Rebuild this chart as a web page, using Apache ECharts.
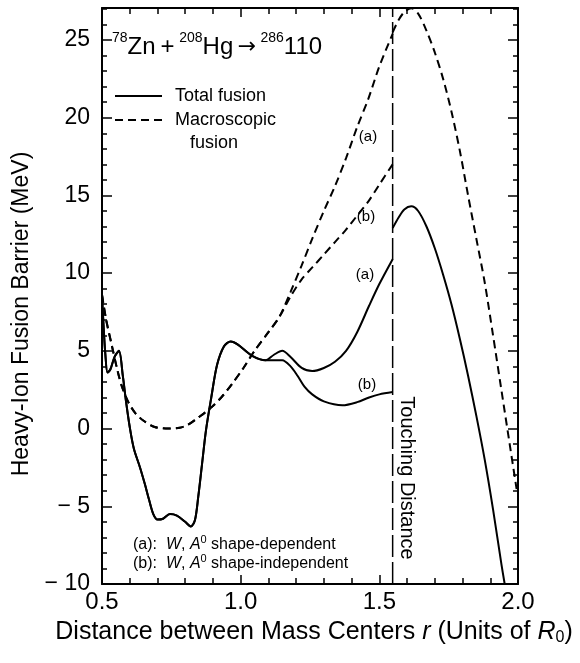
<!DOCTYPE html>
<html><head><meta charset="utf-8">
<script src="https://cdn.jsdelivr.net/npm/echarts/dist/echarts.min.js"></script>
<style>html,body{margin:0;padding:0;background:#fff}#c{width:580px;height:663px}</style>
</head><body><div id="c"></div>
<script>
// ---- data (r in units of R0, barrier in MeV) ----
const xTickLabels = ['0.5','1.0','1.5','2.0'];
const yTickLabels = ['− 10','− 5','0','5','10','15','20','25'];
const touchingR = 1.548;
const totalShared = [[0.500,8.6],[0.505,6.8],[0.512,4.8],[0.520,3.6],[0.530,3.8],[0.545,4.6],[0.561,5.0],[0.575,3.4],[0.587,1.7],[0.600,0.1],[0.615,-1.3],[0.637,-2.5],[0.655,-3.6],[0.670,-4.6],[0.685,-5.5],[0.700,-5.85],[0.720,-5.8],[0.745,-5.5],[0.770,-5.6],[0.800,-6.0],[0.820,-6.3],[0.835,-5.9],[0.847,-4.4],[0.860,-2.4],[0.875,-0.1],[0.894,2.0],[0.915,4.1],[0.940,5.3],[0.964,5.6],[0.990,5.4],[1.040,4.7],[1.090,4.4]];
const totalA = [[1.120,4.75],[1.150,5.0],[1.180,4.6],[1.220,3.9],[1.258,3.7],[1.300,3.9],[1.340,4.3],[1.380,5.0],[1.420,6.2],[1.463,7.9],[1.500,9.3],[1.548,10.9]];
const totalB = [[1.120,4.4],[1.150,4.4],[1.180,4.0],[1.205,3.4],[1.230,2.7],[1.258,2.2],[1.300,1.75],[1.367,1.5],[1.420,1.7],[1.463,2.0],[1.500,2.2],[1.548,2.35]];
const totalOuter = [[1.548,12.9],[1.570,13.6],[1.590,14.1],[1.615,14.3],[1.640,14.0],[1.670,13.0],[1.700,11.6],[1.730,9.9],[1.760,8.0],[1.790,5.8],[1.820,3.4],[1.850,0.8],[1.880,-2.0],[1.910,-5.2],[1.940,-8.7],[1.952,-10]];
const macroShared = [[0.500,8.6],[0.515,7.0],[0.536,5.3],[0.555,3.8],[0.572,2.7],[0.595,1.7],[0.620,1.0],[0.650,0.5],[0.690,0.1],[0.740,0.0],[0.780,0.05],[0.810,0.25],[0.850,0.75],[0.890,1.3],[0.930,2.0],[0.970,2.9],[1.010,3.9],[1.050,5.0],[1.100,6.2],[1.140,7.2]];
const macroA = [[1.180,8.8],[1.220,10.5],[1.260,12.3],[1.300,14.0],[1.340,15.6],[1.380,17.4],[1.420,19.4],[1.460,21.2],[1.500,23.3],[1.548,25.4]];
const macroB = [[1.180,8.5],[1.220,9.6],[1.260,10.4],[1.300,11.2],[1.340,12.0],[1.380,12.8],[1.420,13.7],[1.460,14.6],[1.500,15.7],[1.548,17.0]];
const macroOuter = [[1.548,25.5],[1.570,26.3],[1.590,26.8],[1.615,27.05],[1.640,26.7],[1.670,25.6],[1.700,24.2],[1.730,22.5],[1.760,20.4],[1.790,17.9],[1.820,15.0],[1.850,12.2],[1.880,9.4],[1.910,6.0],[1.940,2.5],[1.970,-1.0],[1.995,-3.9]];

const X_MIN = 0.5, X_MAX = 2.0, Y_MIN = -10, Y_MAX = 27.06;
const FONT = "'Liberation Sans', Arial, Helvetica, sans-serif";
const BLACK = '#000';

const chart = echarts.init(document.getElementById('c'), null, {renderer:'canvas'});

function join(a, b){ return a.concat(b || []).map(function(p){ return [p[0], p[1]]; }); }

function xAx(pos, interval, len, withLine, withLabel){
  return {type:'value', position:pos, min:X_MIN, max:X_MAX, interval:interval,
    axisLine:{show:withLine, onZero:false, lineStyle:{color:BLACK, width:2}},
    axisTick:{show:true, inside:true, length:len, lineStyle:{color:BLACK, width:1.5}},
    axisLabel:{show:withLabel, margin:6, fontSize:24, color:BLACK, fontFamily:FONT,
      formatter:function(v){const i=Math.round((v-X_MIN)/0.5); return Math.abs(v-(X_MIN+i*0.5))<1e-6 ? xTickLabels[i] : '';}},
    splitLine:{show:false}};
}
function yAx(pos, interval, len, withLine, withLabel){
  return {type:'value', position:pos, min:Y_MIN, max:Y_MAX, interval:interval,
    axisLine:{show:withLine, onZero:false, lineStyle:{color:BLACK, width:2}},
    axisTick:{show:true, inside:true, length:len, lineStyle:{color:BLACK, width:1.5}},
    axisLabel:{show:withLabel, margin:12, fontSize:23, color:BLACK, fontFamily:FONT,
      formatter:function(v){const i=Math.round((v-Y_MIN)/5); return (Math.abs(v-(Y_MIN+i*5))<1e-6 && i<yTickLabels.length) ? yTickLabels[i] : '';}},
    splitLine:{show:false}};
}

function ser(id, data, dash){
  return {id:id, name:id, type:'line', data:data, xAxisIndex:0, yAxisIndex:0, showSymbol:false, symbol:'none', smooth:0.3,
    lineStyle:{color:BLACK, width:2, type: dash ? [8,5] : 'solid'}, silent:true};
}
function txt(x, y, text, font, align){
  return {type:'text', x:x, y:y, style:{text:text, font:font, fill:BLACK, align:align||'left', verticalAlign:'middle'}};
}
// lay out a run of plain text pieces (super/subscripts as separate pieces)
const mctx = document.createElement('canvas').getContext('2d');
function runText(x0, y, segs, centered){
  const widths = segs.map(function(s){ mctx.font = s[1]; return mctx.measureText(s[0]).width; });
  let x = centered ? x0 - widths.reduce(function(a,b){return a+b;},0)/2 : x0;
  return segs.map(function(s, i){ const el = txt(x, y + (s[2]||0), s[0], s[1]); x += widths[i]; return el; });
}
const F = function(sz, it){ return (it ? 'italic ' : '') + sz + 'px ' + FONT; };

const graphics = [].concat(
  [{type:'text', x:22, y:314, rotation:Math.PI/2, style:{text:'Heavy-Ion Fusion Barrier (MeV)', font:F(23), fill:BLACK, align:'center', verticalAlign:'middle'}}],
  runText(314, 632, [['Distance between Mass Centers ',F(25)],['r',F(25,true)],[' (Units of ',F(25)],['R',F(25,true)],['0',F(16),6],[')',F(25)]], true),
  runText(112, 47, [['78',F(14),-9],['Zn\u2009+\u2009',F(24)],['208',F(14),-9],['Hg',F(24)],['\u2009→\u2009',"22px 'DejaVu Sans', sans-serif"],['286',F(14),-9],['110',F(24)]], false),
  [{type:'line', shape:{x1:115, y1:96, x2:162, y2:96}, style:{stroke:BLACK, lineWidth:2}},
   {type:'line', shape:{x1:115, y1:120, x2:162, y2:120}, style:{stroke:BLACK, lineWidth:2, lineDash:[8,5]}},
   txt(175, 96, 'Total fusion', F(18)),
   txt(175, 120, 'Macroscopic', F(18)),
   txt(190, 143, 'fusion', F(18)),
   txt(368, 137, '(a)', F(15), 'center'),
   txt(366, 217, '(b)', F(15), 'center'),
   txt(365, 275, '(a)', F(15), 'center'),
   txt(367, 385, '(b)', F(15), 'center'),
   {type:'text', x:407, y:478, rotation:-Math.PI/2, style:{text:'Touching Distance', font:F(20), fill:BLACK, align:'center', verticalAlign:'middle'}}],
  runText(133, 545, [['(a):  ',F(16)],['W',F(16,true)],[', ',F(16)],['A',F(16,true)],['0',F(11),-5],[' shape-dependent',F(16)]], false),
  runText(133, 564, [['(b):  ',F(16)],['W',F(16,true)],[', ',F(16)],['A',F(16,true)],['0',F(11),-5],[' shape-independent',F(16)]], false)
);

const option = {
  animation:false,
  backgroundColor:'#fff',
  grid:{left:102, right:62, top:8, bottom:79, show:false},
  xAxis:[xAx('bottom',0.5,9,true,true), xAx('bottom',0.1,6,false,false), xAx('top',0.5,9,true,false), xAx('top',0.1,6,false,false)],
  yAxis:[yAx('left',5,10,true,true), yAx('left',1,5,false,false), yAx('right',5,10,true,false), yAx('right',1,5,false,false)],
  series:[
    ser('totalA', join(totalShared, totalA), false),
    ser('totalB', join(totalShared, totalB), false),
    ser('totalOuter', join(totalOuter), false),
    ser('macroA', join(macroShared, macroA), true),
    ser('macroB', join(macroShared, macroB), true),
    ser('macroOuter', join(macroOuter), true),
    {id:'touch', name:'touch', type:'line', data:[[touchingR,Y_MIN],[touchingR,Y_MAX]], xAxisIndex:0, yAxisIndex:0, showSymbol:false, symbol:'none', lineStyle:{color:BLACK, width:1.5, type:[22,5]}, silent:true}
  ],
  graphic: graphics
};
chart.setOption(option);
</script></body></html>
